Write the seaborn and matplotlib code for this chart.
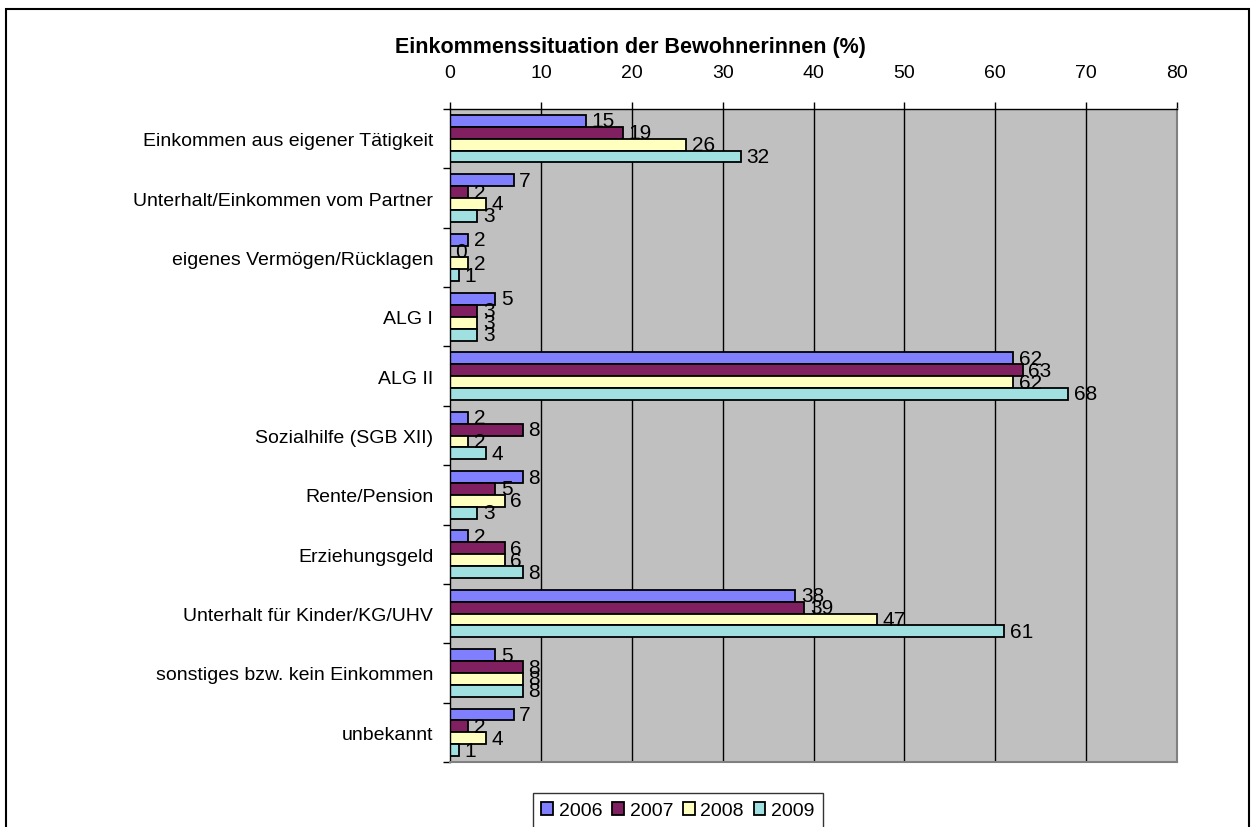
import matplotlib
matplotlib.use("Agg")
import matplotlib.pyplot as plt
import seaborn as sns
import pandas as pd
from matplotlib.patches import Rectangle

categories = [
    "Einkommen aus eigener Tätigkeit",
    "Unterhalt/Einkommen vom Partner",
    "eigenes Vermögen/Rücklagen",
    "ALG I",
    "ALG II",
    "Sozialhilfe (SGB XII)",
    "Rente/Pension",
    "Erziehungsgeld",
    "Unterhalt für Kinder/KG/UHV",
    "sonstiges bzw. kein Einkommen",
    "unbekannt",
]
years = ["2006", "2007", "2008", "2009"]
v2006 = [15, 7, 2, 5, 62, 2, 8, 2, 38, 5, 7]
v2007 = [19, 2, 0, 3, 63, 8, 5, 6, 39, 8, 2]
v2008 = [26, 4, 2, 3, 62, 2, 6, 6, 47, 8, 4]
v2009 = [32, 3, 1, 3, 68, 4, 3, 8, 61, 8, 1]
colors = ["#8080FF", "#802060", "#FFFFC0", "#A0E0E0"]
x_ticks = [0, 10, 20, 30, 40, 50, 60, 70, 80]
title = "Einkommenssituation der Bewohnerinnen (%)"

series = [v2006, v2007, v2008, v2009]
rows = []
for y, vals in zip(years, series):
    for c, v in zip(categories, vals):
        rows.append({"Kategorie": c, "Jahr": y, "Wert": v})
df = pd.DataFrame(rows)

plt.rcParams["font.family"] = ["Liberation Sans", "DejaVu Sans"]

fig = plt.figure(figsize=(12.53, 8.28), dpi=100)
W, H = 1253, 828
ax = fig.add_axes([450 / W, 1 - 763 / H, (1177 - 450) / W, (763 - 110) / H])

sns.barplot(data=df, x="Wert", y="Kategorie", hue="Jahr", order=categories,
            hue_order=years, palette=dict(zip(years, colors)), orient="h",
            width=0.8, edgecolor="black", linewidth=1.3, saturation=1,
            ax=ax, legend=True)

ax.set_facecolor("#C0C0C0")
ax.set_xlim(0, 80)
ax.set_ylim(len(categories) - 0.5, -0.5)
for xv in x_ticks[1:-1]:
    ax.axvline(xv, color="black", lw=1, zorder=0.5)

ax.xaxis.tick_top()
ax.set_xticks(x_ticks)
ax.set_xticklabels([str(t) for t in x_ticks])
ax.tick_params(axis="x", which="major", length=5, width=1, pad=15, labelsize=14, colors="black")
ax.set_yticks(range(len(categories)))
ax.set_yticklabels(categories)
ax.tick_params(axis="y", which="major", length=0, pad=12, labelsize=14)
ax.set_yticks([i - 0.5 for i in range(len(categories) + 1)], minor=True)
ax.tick_params(axis="y", which="minor", length=5, width=1, color="black")
ax.set_xlabel("")
ax.set_ylabel("")

for side in ["left", "top"]:
    ax.spines[side].set_color("black")
    ax.spines[side].set_linewidth(1)
for side in ["right", "bottom"]:
    ax.spines[side].set_color("#808080")
    ax.spines[side].set_linewidth(1.5)

for cont, vals in zip(ax.containers, series):
    ax.bar_label(cont, labels=[str(v) for v in vals], padding=4, fontsize=15)

fig.text(630 / W, 1 - 47 / H, title, ha="center", va="center",
         fontsize=15.5, fontweight="bold")

leg = ax.legend(loc="lower center", bbox_to_anchor=(678 / W, 1 - 829 / H),
                bbox_transform=fig.transFigure, ncol=4, frameon=True,
                fancybox=False, edgecolor="black", fontsize=14,
                handlelength=0.6, handleheight=0.6, handletextpad=0.3,
                columnspacing=0.5, borderpad=0.45, borderaxespad=0)
leg.get_frame().set_linewidth(1)
leg.set_title(None)

fig.patches.append(Rectangle((6 / W, -0.05), (1249 - 6) / W, 1.05 - 10 / H,
                             transform=fig.transFigure, fill=False,
                             edgecolor="black", linewidth=1.5))

fig.savefig("out.png", dpi=100)
